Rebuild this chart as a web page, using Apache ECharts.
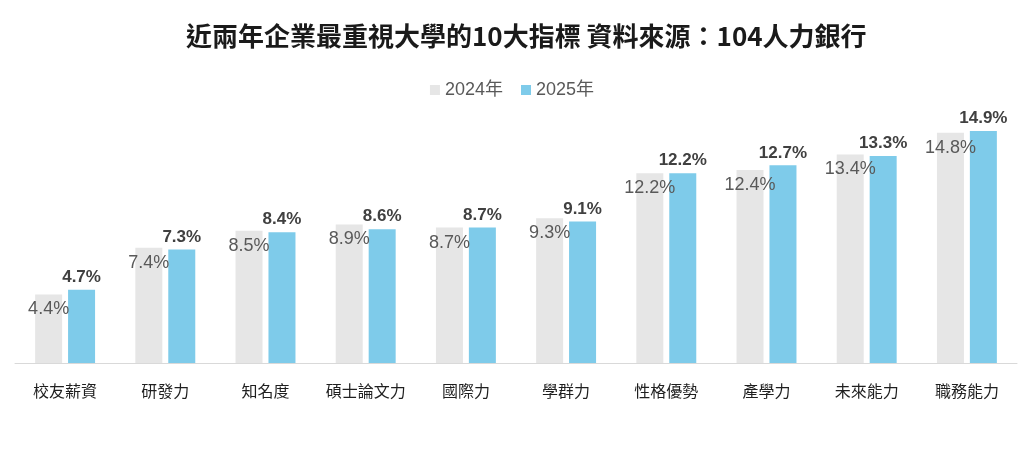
<!DOCTYPE html>
<html><head><meta charset="utf-8">
<script src="https://cdn.jsdelivr.net/npm/echarts@6/dist/echarts.min.js"></script>
<style>html,body{margin:0;padding:0;background:#fff}#c{width:1024px;height:456px}</style>
</head><body><div id="c"></div>
<script>
const titleText = '近兩年企業最重視大學的10大指標 資料來源：104人力銀行';
const categories = ['校友薪資','研發力','知名度','碩士論文力','國際力','學群力','性格優勢','產學力','未來能力','職務能力'];
const seriesNames = ['2024年','2025年'];
const values2024 = [4.4, 7.4, 8.5, 8.9, 8.7, 9.3, 12.2, 12.4, 13.4, 14.8];
const values2025 = [4.7, 7.3, 8.4, 8.6, 8.7, 9.1, 12.2, 12.7, 13.3, 14.9];

const font = '"Noto Sans CJK TC", "Liberation Sans", Arial, sans-serif';
const chart = echarts.init(document.getElementById('c'));
chart.setOption({
  animation: false,
  textStyle: { fontFamily: font },
  title: {
    text: titleText, left: 181, top: 18,
    textStyle: { fontSize: 26, fontWeight: 'bold', color: '#1a1a1a', fontFamily: font }
  },
  legend: {
    data: seriesNames, top: 76, left: 'center',
    itemWidth: 10, itemHeight: 10, itemGap: 18,
    icon: 'rect',
    textStyle: { fontSize: 18, color: '#595959', fontFamily: '"Liberation Sans", Arial, "Noto Sans CJK TC", sans-serif' }
  },
  grid: { left: 15, right: 7, top: 114, bottom: 93 },
  xAxis: {
    type: 'category', data: categories,
    axisLine: { lineStyle: { color: '#d9d9d9', width: 1 } },
    axisTick: { show: false },
    axisLabel: { interval: 0, fontSize: 16, color: '#1f1f1f', margin: 20, fontFamily: font }
  },
  yAxis: { type: 'value', min: 0, max: 16, show: false, splitLine: { show: false } },
  series: [
    {
      name: seriesNames[0], type: 'bar', data: values2024,
      barWidth: 27, barGap: '22%',
      itemStyle: { color: '#e6e6e6' },
      label: {
        show: true, position: 'insideTop', distance: 6,
        formatter: p => p.value.toFixed(1) + '%',
        fontSize: 18, color: '#595959',
        fontFamily: '"Liberation Sans", Arial, sans-serif'
      }
    },
    {
      name: seriesNames[1], type: 'bar', data: values2025,
      barWidth: 27,
      itemStyle: { color: '#7ecbea' },
      label: {
        show: true, position: 'top', distance: 4,
        formatter: p => p.value.toFixed(1) + '%',
        fontSize: 17, fontWeight: 'bold', color: '#404040',
        fontFamily: '"Liberation Sans", Arial, sans-serif'
      }
    }
  ]
});
</script></body></html>
